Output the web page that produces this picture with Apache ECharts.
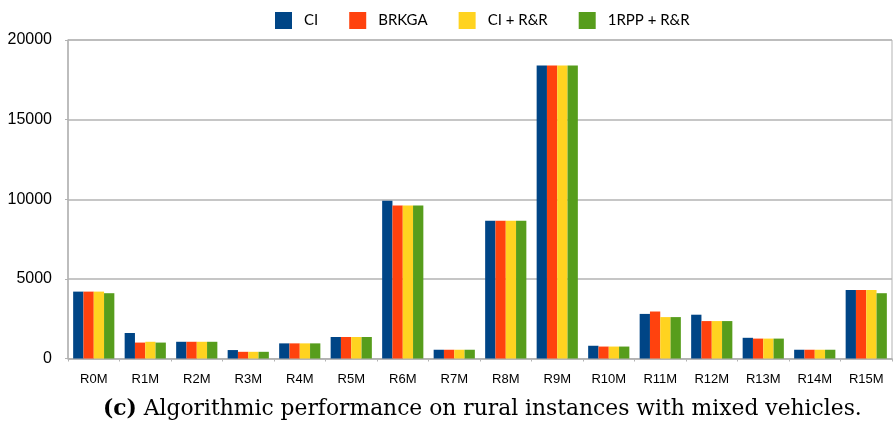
<!DOCTYPE html>
<html>
<head>
<meta charset="utf-8">
<script src="https://cdn.jsdelivr.net/npm/echarts@6/dist/echarts.min.js"></script>
<style>
  html, body { margin: 0; padding: 0; background: #fff; }
  #chart { width: 893px; height: 426px; }
</style>
</head>
<body>
<div id="chart"></div>
<script>
// Instances and objective values per algorithm
const categories = ['R0M','R1M','R2M','R3M','R4M','R5M','R6M','R7M','R8M','R9M','R10M','R11M','R12M','R13M','R14M','R15M'];
const ci      = [4200,1600,1050,530,950,1350,9900,550,8650,18400,800,2800,2750,1300,550,4300];
const brkga   = [4200,1000,1050,420,950,1350,9600,550,8650,18400,750,2950,2350,1250,550,4300];
const ciRR    = [4200,1050,1050,420,950,1350,9600,550,8650,18400,750,2600,2350,1250,550,4300];
const rppRR   = [4100,1000,1050,420,950,1350,9600,550,8650,18400,750,2600,2350,1250,550,4100];
const yTicks  = { min: 0, max: 20000, interval: 5000 };

const names  = ['CI', 'BRKGA', 'CI + R&R', '1RPP + R&R'];
const values = [ci, brkga, ciRR, rppRR];
const colors = ['#004586', '#ff420e', '#ffd320', '#579d1c'];

const gray = '#b3b3b3';
const chart = echarts.init(document.getElementById('chart'), null, { renderer: 'canvas' });

chart.setOption({
  animation: false,
  backgroundColor: '#fff',
  legend: {
    left: 270,
    top: 7,
    itemWidth: 17,
    itemHeight: 17,
    itemGap: 31,
    icon: 'rect',
    textStyle: { fontFamily: 'Lato', fontSize: 15, color: '#000', padding: [0, 0, 0, 7] },
    data: names
  },
  grid: {
    left: 68, right: 1, top: 40, bottom: 67.5,
    show: true, borderColor: gray, borderWidth: 1
  },
  xAxis: {
    type: 'category',
    data: categories,
    axisLine: { lineStyle: { color: gray, width: 1.5 } },
    axisTick: { show: true, length: 3, lineStyle: { color: gray } },
    axisLabel: { color: '#000', fontFamily: 'Liberation Sans', fontSize: 13, margin: 14, interval: 0 }
  },
  yAxis: {
    type: 'value',
    min: yTicks.min, max: yTicks.max, interval: yTicks.interval,
    axisLine: { show: true, lineStyle: { color: gray, width: 1.5 } },
    axisTick: { show: true, length: 3, lineStyle: { color: gray } },
    splitLine: { lineStyle: { color: gray, width: 1.5 } },
    axisLabel: { color: '#000', fontFamily: 'Liberation Sans', fontSize: 16, margin: 16, formatter: v => String(v) }
  },
  series: names.map((n, i) => ({
    name: n,
    type: 'bar',
    data: values[i],
    itemStyle: { color: colors[i] },
    barGap: '0%',
    barCategoryGap: '20%'
  })),
  graphic: [{
    type: 'text',
    left: 103,
    top: 398,
    style: {
      text: '{b|(c)} Algorithmic performance on rural instances with mixed vehicles.',
      font: '21.8px "DejaVu Serif"',
      fill: '#000',
      rich: { b: { fontWeight: 'bold', fontSize: 21.8, fontFamily: 'DejaVu Serif' } }
    }
  }]
});
</script>
</body>
</html>
